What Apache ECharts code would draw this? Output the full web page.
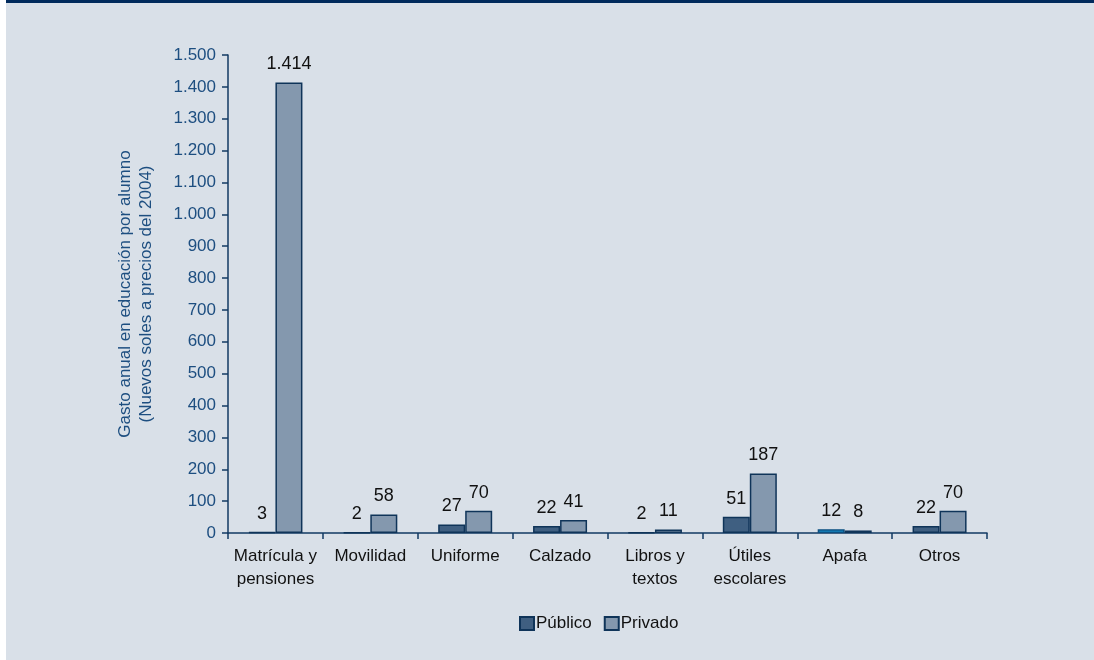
<!DOCTYPE html>
<html><head><meta charset="utf-8">
<script src="https://cdn.jsdelivr.net/npm/echarts@6/dist/echarts.min.js"></script>
<style>
html,body{margin:0;padding:0;background:#fff;}
#wrap{position:absolute;left:6px;top:0;width:1088px;height:660px;background:#d9e0e8;}
#bar{position:absolute;left:6px;top:0;width:1088px;height:3px;background:#002a5c;}
#c{position:absolute;left:0;top:0;width:1094px;height:660px;}
</style></head>
<body>
<div id="wrap"></div><div id="bar"></div>
<div id="c"></div>
<script>
const categories = ['Matrícula y\npensiones','Movilidad','Uniforme','Calzado','Libros y\ntextos','Útiles\nescolares','Apafa','Otros'];
const publico = [3, 2, 27, 22, 2, 51, 12, 22];
const privado = [1414, 58, 70, 41, 11, 187, 8, 70];
const seriesNames = ['Público','Privado'];
const yTitle = 'Gasto anual en educación por alumno\n(Nuevos soles a precios del 2004)';

const FONT = "'Liberation Sans Narrow','Arial Narrow','Liberation Sans',sans-serif";
const fmt = v => String(v).replace(/\B(?=(\d{3})+(?!\d))/g, '.');
const navy = '#123a63';

const pubData = publico.map((v,i) => i === 6
  ? {value: v, itemStyle: {color: '#1ba3e0', borderColor: '#0d4f80'}}
  : v);

const chart = echarts.init(document.getElementById('c'), null, {renderer:'canvas'});
chart.setOption({
  backgroundColor: 'transparent',
  animation: false,
  textStyle: {fontFamily: FONT},
  grid: {left: 228, right: 107, top: 55, bottom: 127, containLabel: false},
  legend: {
    data: seriesNames, top: 610, left: 514, itemWidth: 14, itemHeight: 13, itemGap: 12,
    textStyle: {fontFamily: FONT, fontSize: 17, color: '#111', padding:[0,0,0,-3]},
    icon: 'rect'
  },
  xAxis: {
    type: 'category', data: categories,
    axisLine: {lineStyle: {color: navy, width: 1.5}},
    axisTick: {show: true, length: 6, lineStyle: {color: navy, width: 1.5}},
    axisLabel: {fontFamily: FONT, fontSize: 17, color: '#111', margin: 12, lineHeight: 23, interval: 0}
  },
  yAxis: {
    type: 'value', min: 0, max: 1500, interval: 100,
    name: yTitle, nameLocation: 'middle', nameGap: 71, nameRotate: 90,
    nameTextStyle: {fontFamily: FONT, fontSize: 17, color: '#1d4e80', lineHeight: 21},
    axisLine: {show: true, lineStyle: {color: navy, width: 1.5}},
    axisTick: {show: true, length: 6, lineStyle: {color: navy, width: 1.5}},
    splitLine: {show: false},
    axisLabel: {fontFamily: FONT, fontSize: 17, color: '#1d4e80', margin: 12, formatter: v => fmt(v)}
  },
  series: [
    {name: seriesNames[0], type: 'bar', data: pubData, barWidth: 27, barGap: '0%',
     itemStyle: {color: '#3f5f81', borderColor: '#0f3459', borderWidth: 1.5},
     label: {show: true, position: 'top', distance: 9, fontFamily: FONT, fontSize: 18, color: '#111', formatter: p => fmt(p.value)}},
    {name: seriesNames[1], type: 'bar', data: privado, barWidth: 27, barGap: '0%',
     itemStyle: {color: '#8498ae', borderColor: '#0f3459', borderWidth: 1.5},
     label: {show: true, position: 'top', distance: 9, fontFamily: FONT, fontSize: 18, color: '#111', formatter: p => fmt(p.value)}}
  ]
});
</script>
</body></html>
